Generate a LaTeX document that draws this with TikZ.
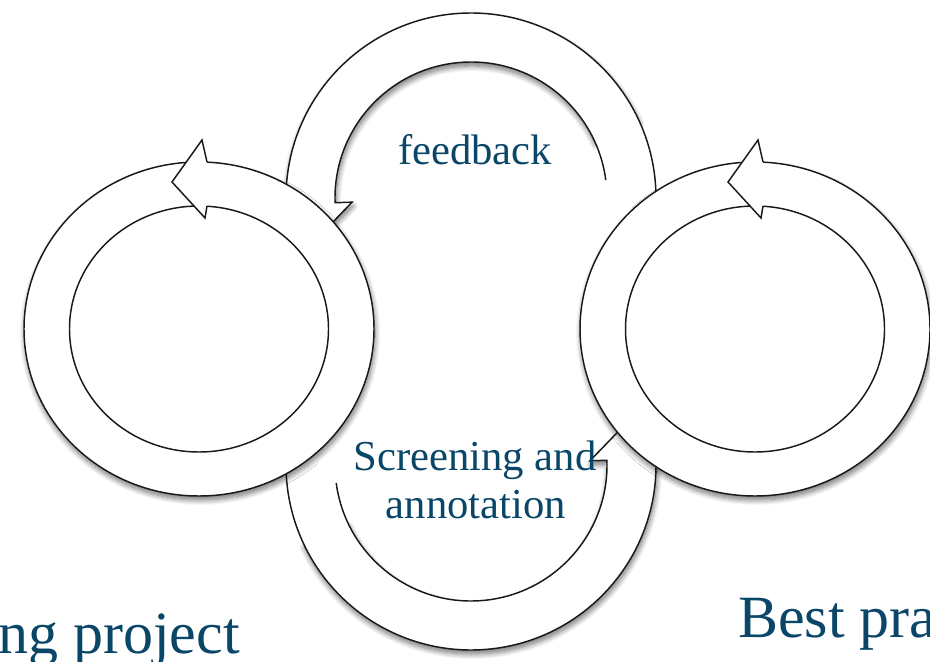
\documentclass[tikz,border=0pt]{standalone}
\usepackage{xcolor}
\usepackage{tikz}
\usepackage{fontspec}
\setmainfont{Liberation Serif}
\usetikzlibrary{positioning,calc,shadows.blur}

\definecolor{labelblue}{RGB}{10,70,103}

\tikzset{
  ringline/.style={draw=black!90, line width=1.1pt},
  softshadow/.style={blur shadow={shadow xshift=0.8pt, shadow yshift=-3pt, shadow blur radius=4pt, shadow opacity=55, shadow blur steps=10}},
  smalllabel/.style={text=labelblue, font=\fontsize{32}{36}\selectfont, inner sep=0pt},
  biglabel/.style={text=labelblue, font=\fontsize{45}{50}\selectfont, inner sep=0pt}
}

\begin{document}
\begin{tikzpicture}[x=0.75pt, y=0.75pt]
    \useasboundingbox (0,0) rectangle (930,661);

    % Feedback loop (top)
    \begin{scope}[shift={(471,463)}]
        \path[softshadow, fill=white] (25:136) arc[start angle=25, end angle=182, radius=136]
            -- (182:119) -- (195:160.5) -- (182:202) -- (182:185)
            arc[start angle=182, end angle=25, radius=185] -- cycle;
        \draw[ringline, fill=white] (7.6:136) arc[start angle=7.6, end angle=182, radius=136]
            -- (182:119) -- (195:160.5) -- (182:202) -- (182:185)
            arc[start angle=182, end angle=-10, radius=185];
    \end{scope}

    % Screening loop (bottom)
    \begin{scope}[shift={(471,196)}]
        \path[softshadow, fill=white] (205:136) arc[start angle=205, end angle=362, radius=136]
            -- (362:119) -- (375:160.5) -- (362:202) -- (362:185)
            arc[start angle=362, end angle=205, radius=185] -- cycle;
        \draw[ringline, fill=white] (187.6:136) arc[start angle=187.6, end angle=362, radius=136]
            -- (362:119) -- (375:160.5) -- (362:202) -- (362:185)
            arc[start angle=362, end angle=170, radius=185];
    \end{scope}

    % Left cycle
    \begin{scope}[shift={(199,332)}]
        \draw[ringline, fill=white, softshadow] (0,0) ellipse[x radius=175, y radius=167];
        \draw[ringline] (0,0) ellipse[x radius=129.5, y radius=123];
        \draw[ringline, fill=white] (8,167) -- (3,189) -- (-27,147) -- (6,111) -- (8,123);
    \end{scope}

    % Right cycle
    \begin{scope}[shift={(755,332)}]
        \draw[ringline, fill=white, softshadow] (0,0) ellipse[x radius=175, y radius=167];
        \draw[ringline] (0,0) ellipse[x radius=129.5, y radius=123];
        \draw[ringline, fill=white] (8,167) -- (3,189) -- (-27,147) -- (6,111) -- (8,123);
    \end{scope}

    % Labels
    \node[smalllabel, anchor=base] (feedback) at (475,496) {feedback};
    \node[smalllabel, anchor=base] (screening) at (475,191) {Screening and};
    \node[smalllabel, anchor=base] (annotation) at (476,143) {annotation};
    \node[biglabel, anchor=base west] (project) at (-2,8) {ng project};
    \node[biglabel, anchor=base west] (practice) at (738,24) {Best pra};
\end{tikzpicture}
\end{document}
